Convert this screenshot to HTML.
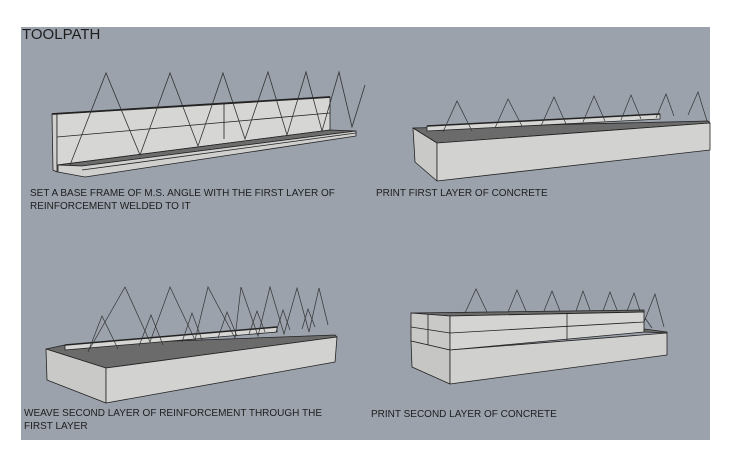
<!DOCTYPE html>
<html><head><meta charset="utf-8"><style>
html,body{margin:0;padding:0;background:#fff;}
svg{display:block;}
text{font-family:"Liberation Sans",sans-serif;fill:#1e1e1e;}
</style></head><body>
<svg width="730" height="466" viewBox="0 0 730 466" xmlns="http://www.w3.org/2000/svg">
<rect x="21" y="27" width="689" height="413" fill="#9ba2ac"/>
<text x="22" y="39" font-size="15">TOOLPATH</text>

<!-- Panel 1 -->
<g stroke="#222" stroke-width="0.8" stroke-linejoin="round">
<polygon points="52,114 57,114 57,172 53,170" fill="#cfcfcd"/>
<polygon points="57,114 330,97 330,130 57,165" fill="#d6d6d4"/>
<polygon points="58,165 330,130 356,131 82,166" fill="#6c6c6c"/>
<polygon points="58,165 82,166 356,131 356,136 85,177 58,172" fill="#d0d0ce"/>
<line x1="82" y1="170" x2="356" y2="133" />
<line x1="57" y1="137" x2="330" y2="113"/>
<line x1="224" y1="104" x2="224" y2="139"/>
<line x1="52" y1="114" x2="330" y2="97" stroke-width="1.8"/>
</g>
<polyline fill="none" stroke="#333" stroke-width="0.8" points="70,165 106,73 140,155 170,73 198,146 223,73 245,139 268,72 287,135 306,72 322,131 339,72 352,127 365,85"/>

<!-- Panel 2 -->
<g stroke="#222" stroke-width="0.8" stroke-linejoin="round">
<polygon points="413,128 708,121 710,123 437,143" fill="#6b6b6b"/>
<polygon points="427,126 660,114 660,119 427,131" fill="#d6d6d4"/>
<line x1="427" y1="126" x2="660" y2="114" stroke-width="1.5"/>
<polygon points="413,128 437,143 437,181 415,162" fill="#c9c9c7"/>
<polygon points="437,143 710,123 710,150 437,181" fill="#d2d2d0"/>
</g>
<g fill="none" stroke="#333" stroke-width="0.7">
<polyline points="443,132 457,101 472,131"/>
<polyline points="495,128 508,99 522,126"/>
<polyline points="541,126 554,97 566,124"/>
<polyline points="583,122 594,96 605,121"/>
<polyline points="621,120 631,95 641,119"/>
<polyline points="656,118 666,94 674,116"/>
<polyline points="688,115 698,92 707,121"/>
</g>
<text x="376" y="196" font-size="10">PRINT FIRST LAYER OF CONCRETE</text>
<text x="30" y="196" font-size="10">SET A BASE FRAME OF M.S. ANGLE WITH THE FIRST LAYER OF</text>
<text x="30" y="209" font-size="10">REINFORCEMENT WELDED TO IT</text>

<!-- Panel 3 -->
<g stroke="#222" stroke-width="0.8" stroke-linejoin="round">
<polygon points="46,349 65,345 335,335 337,337 106,368" fill="#6b6b6b"/>
<polygon points="65,345 277,327 277,332 65,350" fill="#d6d6d4"/>
<line x1="65" y1="345" x2="277" y2="327" stroke-width="1.5"/>
<polygon points="46,349 106,368 106,403 47,380" fill="#c9c9c7"/>
<polygon points="106,368 337,337 335,362 106,403" fill="#d2d2d0"/>
</g>
<g fill="none" stroke="#333" stroke-width="0.7">
<polyline points="89,350 125,287 150,342 170,287 195,340 208,287 235,338 241,287 258,336 270,287 284,334 297,288 309,332 319,288 328,325"/>
<polyline points="88,352 102,316 118,349"/>
<polyline points="139,346 151,315 163,345"/>
<polyline points="182,342 192,313 202,340"/>
<polyline points="218,338 227,312 237,336"/>
<polyline points="249,334 257,311 265,332"/>
<polyline points="276,332 283,310 290,330"/>
<polyline points="302,329 308,309 315,327"/>
</g>
<text x="24" y="416" font-size="10">WEAVE SECOND LAYER OF REINFORCEMENT THROUGH THE</text>
<text x="24" y="429" font-size="10">FIRST LAYER</text>

<!-- Panel 4 -->
<g stroke="#222" stroke-width="0.8" stroke-linejoin="round">
<polygon points="411,313 644,310 644,312 450,316" fill="#6b6b6b"/>
<polygon points="644,329 667,332 667,333 644,332" fill="#6b6b6b"/>
<polygon points="411,313 450,316 450,350 411,341" fill="#c9c9c7"/>
<polygon points="450,316 644,312 644,332 450,350" fill="#d4d4d2"/>
<polygon points="411,341 450,350 450,384 412,367" fill="#c6c6c4"/>
<polygon points="450,350 667,333 667,355 450,384" fill="#d0d0ce"/>
<polyline fill="none" points="411,327 450,333 644,322"/>
<line x1="428" y1="314" x2="428" y2="345"/>
<line x1="567" y1="313" x2="567" y2="340"/>
</g>
<g fill="none" stroke="#333" stroke-width="0.7">
<polyline points="465,313 476,289 487,312"/>
<polyline points="508,312 517,290 526,311"/>
<polyline points="544,311 552,291 560,311"/>
<polyline points="576,311 583,291 590,310"/>
<polyline points="603,311 610,292 617,310"/>
<polyline points="627,311 634,293 640,311"/>
<polyline points="644,322 655,294 664,327"/>
<polyline points="645,318 652,328"/>
</g>
<text x="371" y="417" font-size="10">PRINT SECOND LAYER OF CONCRETE</text>
</svg>
</body></html>
